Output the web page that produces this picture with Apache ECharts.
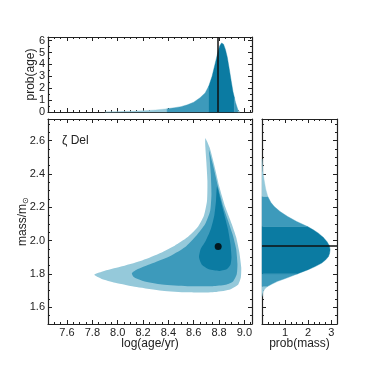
<!DOCTYPE html>
<html>
<head>
<meta charset="utf-8">
<script src="https://cdn.jsdelivr.net/npm/echarts@6/dist/echarts.min.js"></script>
<style>
  html, body { margin: 0; padding: 0; background: #fff; }
  #chart { width: 374px; height: 374px; }
</style>
</head>
<body>
<div id="chart"></div>
<script>
// axis limits and tick labels
const ageRange = [7.45, 9.06];
const massRange = [1.5, 2.73];
const probAgeRange = [0, 6.3];
const probMassRange = [0, 3.25];
const ageTicks = [7.6, 7.8, 8.0, 8.2, 8.4, 8.6, 8.8, 9.0];
const massTicks = [1.6, 1.8, 2.0, 2.2, 2.4, 2.6];
const probAgeTicks = [0, 1, 2, 3, 4, 5, 6];
const probMassTicks = [1, 2, 3];

// best fit
const bestAge = 8.793;
const bestMass = 1.965;

// marginal pdf of log(age)
const ageGrid = [7.90, 8.00, 8.10, 8.20, 8.30, 8.39, 8.45, 8.50, 8.55, 8.60, 8.65, 8.69, 8.72, 8.745, 8.77, 8.79, 8.805, 8.82, 8.835, 8.85, 8.865, 8.88, 8.895, 8.91, 8.92, 8.93, 8.95, 8.965];
const ageProb = [0, 0.03, 0.06, 0.10, 0.17, 0.27, 0.36, 0.45, 0.60, 0.82, 1.20, 1.60, 2.20, 3.00, 4.10, 5.00, 5.55, 5.80, 5.70, 5.25, 4.60, 3.65, 2.65, 1.70, 1.25, 0.80, 0.15, 0];
const ageBandEdges = [7.90, 8.39, 8.72, 8.92, 8.95, 8.965];

// marginal pdf of mass
const massGrid = [1.665, 1.68, 1.696, 1.71, 1.726, 1.74, 1.756, 1.77, 1.786, 1.802, 1.826, 1.846, 1.866, 1.885, 1.905, 1.925, 1.946, 1.97, 1.995, 2.02, 2.045, 2.065, 2.085, 2.115, 2.145, 2.175, 2.205, 2.23, 2.265, 2.31, 2.365, 2.42, 2.49];
const massProb = [0, 0.02, 0.06, 0.12, 0.25, 0.43, 0.67, 0.95, 1.26, 1.55, 2.0, 2.32, 2.59, 2.76, 2.88, 2.93, 2.95, 2.92, 2.81, 2.65, 2.44, 2.22, 1.97, 1.50, 1.11, 0.78, 0.53, 0.38, 0.25, 0.16, 0.09, 0.03, 0];
const massBandEdges = [1.665, 1.726, 1.802, 2.085, 2.265, 2.49];

// joint contours [log age, mass], outer to inner
const contourOuter = [[8.692, 2.615], [8.725, 2.56], [8.76, 2.46], [8.80, 2.33], [8.85, 2.20], [8.90, 2.10], [8.935, 2.02], [8.96, 1.93], [8.975, 1.84], [8.972, 1.78], [8.95, 1.735], [8.88, 1.705], [8.75, 1.69], [8.55, 1.69], [8.35, 1.70], [8.15, 1.722], [7.98, 1.748], [7.87, 1.772], [7.815, 1.795], [7.88, 1.815], [8.02, 1.843], [8.18, 1.878], [8.32, 1.92], [8.45, 1.97], [8.55, 2.02], [8.63, 2.08], [8.68, 2.15], [8.705, 2.24], [8.708, 2.36], [8.70, 2.47], [8.692, 2.56]];
const contourMiddle = [[8.72, 2.545], [8.75, 2.46], [8.79, 2.33], [8.835, 2.20], [8.875, 2.11], [8.91, 2.03], [8.935, 1.95], [8.945, 1.86], [8.94, 1.80], [8.91, 1.755], [8.85, 1.735], [8.75, 1.727], [8.55, 1.727], [8.35, 1.737], [8.20, 1.758], [8.13, 1.78], [8.112, 1.805], [8.16, 1.83], [8.28, 1.866], [8.42, 1.91], [8.53, 1.96], [8.62, 2.03], [8.69, 2.10], [8.73, 2.18], [8.74, 2.28], [8.735, 2.40], [8.725, 2.50]];
const contourInner = [[8.784, 2.325], [8.81, 2.25], [8.84, 2.16], [8.87, 2.07], [8.89, 1.98], [8.898, 1.90], [8.89, 1.855], [8.86, 1.828], [8.80, 1.818], [8.72, 1.828], [8.665, 1.855], [8.642, 1.90], [8.655, 1.95], [8.695, 2.00], [8.735, 2.07], [8.762, 2.15], [8.776, 2.24]];

const light = '#95c9da';
const medium = '#3d9abb';
const dark = '#0b7ba2';
const bandColors = [light, medium, dark, medium, light];
const ink = '#222';

const chart = echarts.init(document.getElementById('chart'));

// one side of a panel: a major axis (line, ticks, labels) and a minor-tick axis
function side(gridIndex, range, position, ticks, minorStep, withLabels, fmt, extra) {
    const major = Object.assign({
        type: 'value', gridIndex: gridIndex, position: position,
        min: range[0], max: range[1],
        axisLine: { show: true, onZero: false, lineStyle: { color: ink, width: 1.2 } },
        axisTick: { show: true, inside: true, length: 4, customValues: ticks, lineStyle: { color: ink, width: 1 } },
        axisLabel: { show: withLabels, customValues: ticks, margin: 3, fontSize: 11, color: ink, formatter: fmt },
        splitLine: { show: false },
        nameMoveOverlap: false
    }, extra || {});
    const minor = {
        type: 'value', gridIndex: gridIndex, position: position,
        min: range[0], max: range[1], interval: minorStep,
        axisLine: { show: false, onZero: false },
        axisTick: { show: true, inside: true, length: 2, lineStyle: { color: ink, width: 1 } },
        axisLabel: { show: false },
        splitLine: { show: false }
    };
    return [major, minor];
}

const oneDec = v => v.toFixed(1);
const noDec = v => String(Math.round(v));
const nameStyle = { fontSize: 12, color: ink };

const xAxis = [].concat(
    side(0, ageRange, 'bottom', ageTicks, 0.05, false, oneDec),
    side(0, ageRange, 'top', ageTicks, 0.05, false, oneDec),
    side(1, ageRange, 'bottom', ageTicks, 0.05, true, oneDec, {
        name: 'log(age/yr)', nameLocation: 'middle', nameGap: 14, nameTextStyle: nameStyle
    }),
    side(1, ageRange, 'top', ageTicks, 0.05, false, oneDec),
    side(2, probMassRange, 'bottom', probMassTicks, 0.25, true, noDec, {
        name: 'prob(mass)', nameLocation: 'middle', nameGap: 14, nameTextStyle: nameStyle
    }),
    side(2, probMassRange, 'top', probMassTicks, 0.25, false, noDec)
);

const yAxis = [].concat(
    side(0, probAgeRange, 'left', probAgeTicks, 0.5, true, noDec, {
        name: 'prob(age)', nameLocation: 'middle', nameGap: 11, nameTextStyle: nameStyle
    }),
    side(0, probAgeRange, 'right', probAgeTicks, 0.5, false, noDec),
    side(1, massRange, 'left', massTicks, 0.05, true, oneDec, {
        name: 'mass/m{s|⊙}', nameLocation: 'middle', nameGap: 18,
        nameTextStyle: Object.assign({}, nameStyle, { rich: { s: { fontSize: 8, color: ink, verticalAlign: 'bottom', padding: [6, 0, 0, 0] } } })
    }),
    side(1, massRange, 'right', massTicks, 0.05, false, oneDec),
    side(2, massRange, 'left', massTicks, 0.05, false, oneDec),
    side(2, massRange, 'right', massTicks, 0.05, false, oneDec)
);

// polygon of one credible band under a marginal curve
function bandPoints(grid, prob, lo, hi, vertical) {
    const pts = [];
    grid.forEach((g, i) => {
        if (g >= lo - 1e-9 && g <= hi + 1e-9) {
            pts.push(vertical ? [prob[i], g] : [g, prob[i]]);
        }
    });
    return pts.concat(vertical ? [[0, hi], [0, lo]] : [[hi, 0], [lo, 0]]);
}

function bandSeries(axisIndex, grid, prob, edges, vertical, mark) {
    return {
        type: 'custom',
        xAxisIndex: axisIndex, yAxisIndex: axisIndex,
        data: bandColors.map((c, i) => i),
        renderItem: (params, api) => {
            const i = params.dataIndex;
            const pts = bandPoints(grid, prob, edges[i], edges[i + 1], vertical);
            return {
                type: 'polygon',
                shape: { points: pts.map(p => api.coord(p)) },
                style: { fill: bandColors[i], stroke: bandColors[i], lineWidth: 0.4 }
            };
        },
        markLine: {
            silent: true, symbol: 'none', label: { show: false },
            lineStyle: { color: '#111', width: 1.5, type: 'solid' },
            data: [mark]
        }
    };
}

const contours = [contourOuter, contourMiddle, contourInner];
const contourColors = [light, medium, dark];

const option = {
    animation: false,
    textStyle: { fontFamily: 'Liberation Sans, Arial, sans-serif' },
    grid: [
        { left: 48, right: 122, top: 37, height: 75 },
        { left: 48, right: 122, top: 119, bottom: 50 },
        { left: 262, right: 37, top: 119, bottom: 50 }
    ],
    xAxis: xAxis,
    yAxis: yAxis,
    graphic: [{
        type: 'text', left: 62, top: 135,
        style: { text: 'ζ Del', font: '12px Liberation Sans, Arial, sans-serif', fill: ink }
    }],
    series: [
        bandSeries(0, ageGrid, ageProb, ageBandEdges, false, { xAxis: bestAge }),
        {
            type: 'custom',
            xAxisIndex: 4, yAxisIndex: 4,
            data: [0, 1, 2],
            renderItem: (params, api) => {
                const i = params.dataIndex;
                return {
                    type: 'polygon',
                    shape: { points: contours[i].map(p => api.coord(p)), smooth: 0.2 },
                    style: { fill: contourColors[i] }
                };
            }
        },
        {
            type: 'scatter',
            xAxisIndex: 4, yAxisIndex: 4,
            data: [[bestAge, bestMass]],
            symbolSize: 7,
            itemStyle: { color: '#000' }
        },
        bandSeries(8, massGrid, massProb, massBandEdges, true, { yAxis: bestMass })
    ]
};

chart.setOption(option);
</script>
</body>
</html>
